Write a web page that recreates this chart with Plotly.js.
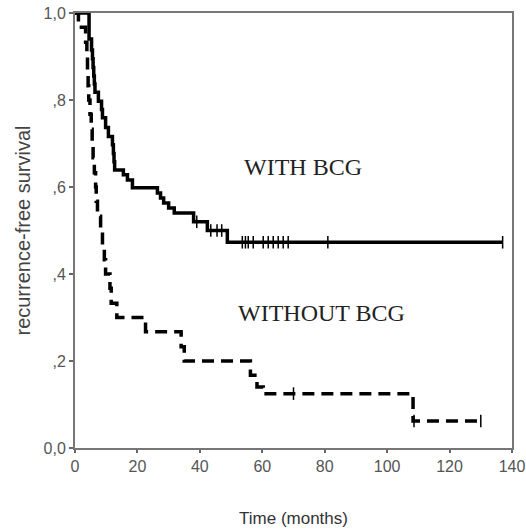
<!DOCTYPE html>
<html>
<head>
<meta charset="utf-8">
<script src="https://cdn.plot.ly/plotly-3.0.1.min.js"></script>
<style>html,body{margin:0;padding:0;background:#fff;}#chart{width:526px;height:529px;}</style>
</head>
<body>
<div id="chart"></div>
<script>
// WITH BCG: step times (months) and survival after each step
var withTimes = [0, 4.5, 5.3, 5.6, 5.8, 6.0, 6.2, 6.4, 7.5, 8.5, 8.8, 9.8, 10.7, 12.0, 12.3, 12.5, 12.7, 15.5, 16.8, 18.4, 26.4, 27.4, 28.4, 30.0, 31.8, 38.0, 42.4, 48.8, 137];
var withSurv  = [1.0, 0.94, 0.915, 0.895, 0.875, 0.855, 0.837, 0.818, 0.797, 0.778, 0.759, 0.737, 0.716, 0.697, 0.677, 0.658, 0.639, 0.628, 0.616, 0.598, 0.586, 0.575, 0.563, 0.552, 0.54, 0.52, 0.50, 0.473, 0.473];
var withCensTimes = [39, 43.5, 45.5, 47, 53.6, 54.6, 55.5, 57.1, 60.3, 61.9, 63.5, 65.1, 66.7, 68.3, 81, 137];
var withCensSurv  = [0.52, 0.50, 0.50, 0.50, 0.473, 0.473, 0.473, 0.473, 0.473, 0.473, 0.473, 0.473, 0.473, 0.473, 0.473, 0.473];

// WITHOUT BCG
var woTimes = [0, 1.1, 3.4, 3.8, 4.0, 4.2, 4.4, 4.8, 5.2, 5.5, 5.8, 6.2, 6.6, 6.8, 7.2, 8.2, 8.8, 9.4, 9.8, 11.2, 11.6, 13.4, 22.6, 34.0, 35.0, 56.2, 58.3, 60.3, 108.3, 130];
var woSurv  = [1.0, 0.967, 0.933, 0.9, 0.867, 0.833, 0.8, 0.767, 0.733, 0.7, 0.667, 0.633, 0.6, 0.567, 0.533, 0.5, 0.467, 0.433, 0.4, 0.367, 0.333, 0.3, 0.267, 0.233, 0.2, 0.167, 0.14, 0.125, 0.062, 0.062];
var woCensTimes = [70, 108.6, 130];
var woCensSurv  = [0.125, 0.062, 0.062];

var yTickVals = [0, 0.2, 0.4, 0.6, 0.8, 1.0];
var yTickText = ["0,0", ",2", ",4", ",6", ",8", "1,0"];
var xTickVals = [0, 20, 40, 60, 80, 100, 120, 140];

var traces = [
  {x: withTimes, y: withSurv, type: 'scatter', mode: 'lines', line: {shape: 'hv', color: '#000', width: 3.5}, hoverinfo: 'x+y'},
  {x: woTimes, y: woSurv, type: 'scatter', mode: 'lines', line: {shape: 'hv', color: '#000', width: 3.5, dash: '12px,7px'}, hoverinfo: 'x+y'},
  {x: withCensTimes, y: withCensSurv, type: 'scatter', mode: 'markers', marker: {symbol: 'line-ns', size: 9, line: {color: '#000', width: 1.5}}, hoverinfo: 'x+y'},
  {x: woCensTimes, y: woCensSurv, type: 'scatter', mode: 'markers', marker: {symbol: 'line-ns', size: 9, line: {color: '#000', width: 1.5}}, hoverinfo: 'x+y'}
];

var layout = {
  width: 526, height: 529,
  margin: {l: 75, r: 14, t: 13, b: 81},
  showlegend: false,
  paper_bgcolor: '#fff', plot_bgcolor: '#fff',
  xaxis: {
    range: [0, 140], tickvals: xTickVals, ticks: 'outside', ticklen: 3, tickwidth: 2, tickcolor: '#666',
    showgrid: false, zeroline: false, showline: true, linecolor: '#777', linewidth: 2, mirror: true,
    tickfont: {family: 'Liberation Sans, Arial, sans-serif', size: 16, color: '#555'},
    title: {text: 'Time (months)', font: {family: 'Liberation Sans, Arial, sans-serif', size: 17, color: '#333'}, standoff: 38}
  },
  yaxis: {
    range: [0, 1.0], tickvals: yTickVals, ticktext: yTickText, ticks: 'outside', ticklen: 4, tickwidth: 2, tickcolor: '#666',
    showgrid: false, zeroline: false, showline: true, linecolor: '#777', linewidth: 2, mirror: true,
    tickfont: {family: 'Liberation Sans, Arial, sans-serif', size: 16, color: '#555'},
    title: {text: 'recurrence-free survival', font: {family: 'Liberation Sans, Arial, sans-serif', size: 20, color: '#444'}, standoff: 8}
  },
  annotations: [
    {x: 73, y: 0.646, xref: 'x', yref: 'y', text: 'WITH BCG', showarrow: false, font: {family: 'Liberation Serif, Times New Roman, serif', size: 24, color: '#222'}},
    {x: 79, y: 0.31, xref: 'x', yref: 'y', text: 'WITHOUT BCG', showarrow: false, font: {family: 'Liberation Serif, Times New Roman, serif', size: 24, color: '#222'}}
  ]
};

Plotly.newPlot('chart', traces, layout, {displayModeBar: false, staticPlot: true});
</script>
</body>
</html>
